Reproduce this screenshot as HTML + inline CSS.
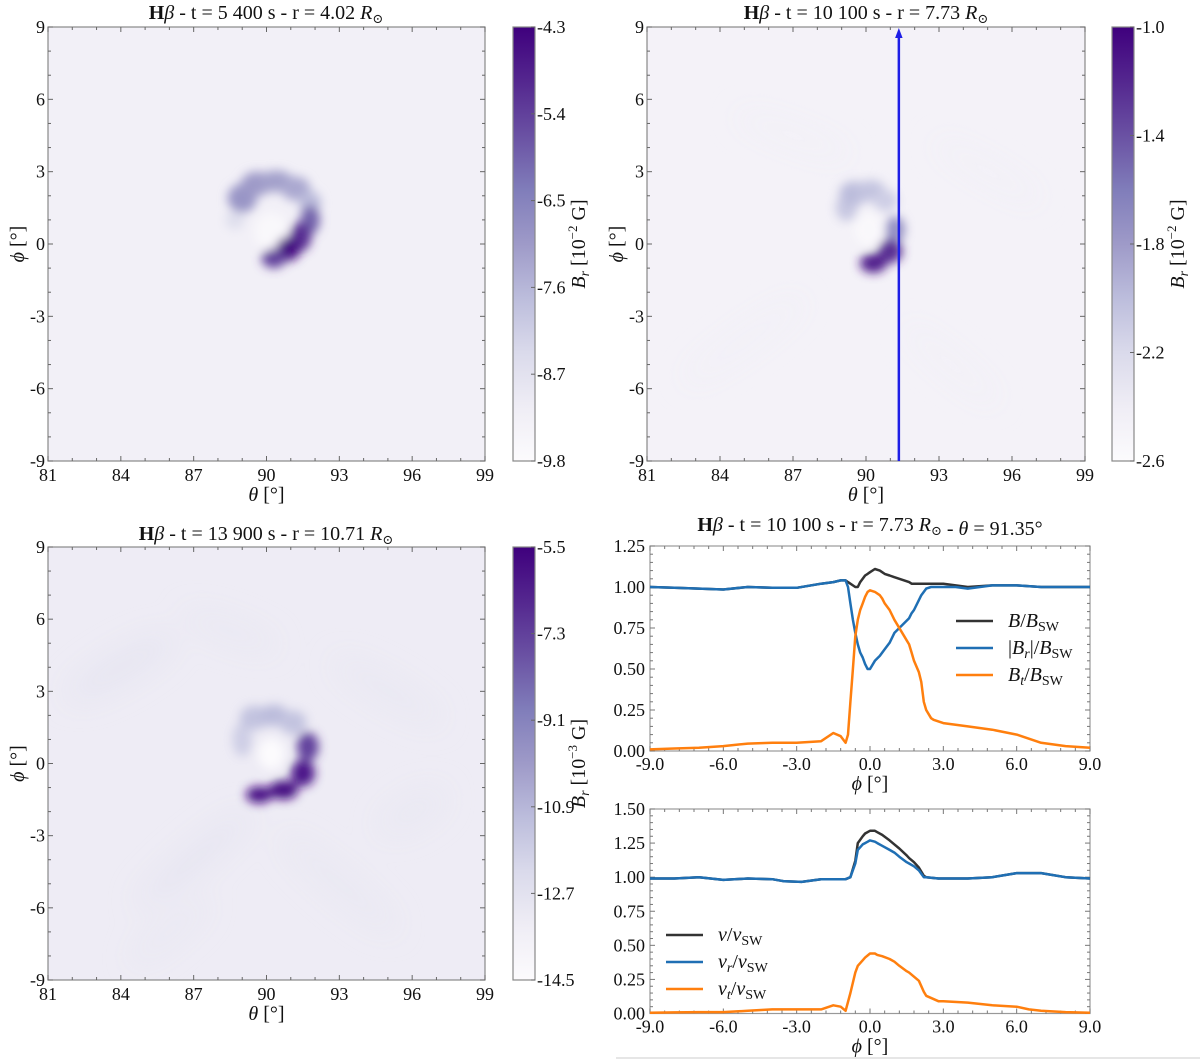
<!DOCTYPE html>
<html><head><meta charset="utf-8">
<style>
html,body{margin:0;padding:0;background:#fff;}
svg{display:block;}
svg text{font-family:"Liberation Serif","DejaVu Serif",serif;}
</style></head>
<body>
<svg id="fig" width="1200" height="1059" viewBox="0 0 1200 1059" xmlns="http://www.w3.org/2000/svg" font-family="Liberation Serif, serif">
<defs>
<filter id="blur" x="-50%" y="-50%" width="200%" height="200%"><feGaussianBlur stdDeviation="5"/></filter>
<filter id="blurbig" x="-50%" y="-50%" width="200%" height="200%"><feGaussianBlur stdDeviation="14"/></filter>
<linearGradient id="purples" x1="0" y1="1" x2="0" y2="0">
<stop offset="0" stop-color="#fcfbfd"/><stop offset="0.125" stop-color="#efedf5"/><stop offset="0.25" stop-color="#dadaeb"/><stop offset="0.375" stop-color="#bcbddc"/><stop offset="0.5" stop-color="#9e9ac8"/><stop offset="0.625" stop-color="#807dba"/><stop offset="0.75" stop-color="#6a51a3"/><stop offset="0.875" stop-color="#54278f"/><stop offset="1" stop-color="#3f007d"/>
</linearGradient>
<marker id="arrowhead" markerWidth="4" markerHeight="4" refX="2" refY="2" orient="auto"><path d="M0,0.5 L4,2 L0,3.5 z" fill="#1e1ee6"/></marker>
</defs>
</svg>
<script>
// ---------- DATA ----------
const phiB = [-9,-8,-7,-6,-5,-4,-3,-2,-1.5,-1.2,-1.0,-0.9,-0.8,-0.7,-0.6,-0.5,-0.4,-0.3,-0.2,-0.1,0,0.2,0.4,0.5,0.6,0.8,1.0,1.4,1.6,1.7,1.8,2.0,2.1,2.2,2.3,2.5,2.6,3,3.5,4,5,6,7,8,9];
const bTotal = [1.0,0.995,0.99,0.985,1.0,0.995,0.995,1.02,1.03,1.04,1.04,1.03,1.02,1.01,1.0,1.0,1.03,1.05,1.07,1.08,1.09,1.11,1.10,1.09,1.08,1.07,1.06,1.04,1.03,1.02,1.02,1.02,1.02,1.02,1.02,1.02,1.02,1.02,1.01,1.0,1.01,1.01,1.0,1.0,1.0];
const bRadial = [1.0,0.995,0.99,0.985,1.0,0.995,0.995,1.02,1.03,1.04,1.04,1.0,0.9,0.8,0.72,0.65,0.6,0.57,0.53,0.5,0.5,0.55,0.58,0.6,0.62,0.66,0.72,0.78,0.81,0.84,0.86,0.92,0.95,0.97,0.99,1.0,1.0,1.0,1.0,0.99,1.01,1.01,1.0,1.0,1.0];
const bTang = [0.01,0.015,0.02,0.03,0.045,0.05,0.05,0.06,0.11,0.09,0.05,0.1,0.3,0.5,0.7,0.8,0.86,0.9,0.94,0.97,0.98,0.97,0.95,0.93,0.9,0.86,0.8,0.7,0.65,0.6,0.55,0.48,0.42,0.3,0.25,0.2,0.19,0.17,0.16,0.15,0.13,0.1,0.05,0.03,0.02];
const phiV = [-9,-8,-7,-6,-5,-4,-3.5,-2.8,-2,-1.5,-1.2,-1.0,-0.8,-0.6,-0.5,-0.3,-0.2,0,0.2,0.3,0.5,0.8,1.0,1.2,1.5,1.6,1.8,2.0,2.2,2.3,2.8,3,4,5,6,6.5,7,8,9];
const vTotal = [0.99,0.99,1.0,0.98,0.99,0.985,0.97,0.965,0.985,0.985,0.985,0.985,1.0,1.12,1.25,1.3,1.32,1.34,1.34,1.33,1.31,1.27,1.24,1.21,1.16,1.14,1.11,1.07,1.01,1.0,0.99,0.99,0.99,1.0,1.03,1.03,1.03,1.0,0.99];
const vRadial = [0.99,0.99,1.0,0.98,0.99,0.985,0.97,0.965,0.985,0.985,0.985,0.985,1.0,1.1,1.2,1.24,1.25,1.27,1.26,1.25,1.23,1.2,1.18,1.15,1.11,1.1,1.08,1.05,1.0,1.0,0.99,0.99,0.99,1.0,1.03,1.03,1.03,1.0,0.99];
const vTang = [0.005,0.008,0.01,0.01,0.02,0.03,0.03,0.03,0.03,0.06,0.05,0.02,0.15,0.3,0.35,0.39,0.41,0.44,0.44,0.43,0.42,0.40,0.38,0.35,0.31,0.3,0.27,0.24,0.16,0.13,0.09,0.09,0.08,0.06,0.05,0.03,0.02,0.01,0.005];
const heatTicksX = [81,84,87,90,93,96,99];
const heatTicksY = [-9,-6,-3,0,3,6,9];
const lineTicksX = [-9,-6,-3,0,3,6,9];
const lineTicksY1 = [0,0.25,0.5,0.75,1.0,1.25];
const lineTicksY2 = [0,0.25,0.5,0.75,1.0,1.25,1.5];
const cbar1Labels = ["-4.3","-5.4","-6.5","-7.6","-8.7","-9.8"];
const cbar2Labels = ["-1.0","-1.4","-1.8","-2.2","-2.6"];
const cbar3Labels = ["-5.5","-7.3","-9.1","-10.9","-12.7","-14.5"];
// blobs: [theta, phi, rx(deg), ry(deg), level 0..1]
const blobs1 = [[90.2,0.5,0.7,0.8,0.03],[88.7,1.0,0.4,0.4,0.22],[89.0,1.9,0.6,0.6,0.52],[89.6,2.5,0.65,0.5,0.5],[90.4,2.6,0.7,0.45,0.48],[91.2,2.3,0.6,0.5,0.45],[91.8,1.7,0.45,0.5,0.38],[91.8,1.0,0.4,0.6,0.7],[91.4,0.3,0.45,0.6,0.85],[90.9,-0.2,0.5,0.5,0.97],[90.3,-0.6,0.5,0.4,0.8]];
const blobs2 = [[90.1,0.6,0.6,0.7,0.03],[89.2,1.5,0.45,0.55,0.33],[89.5,2.1,0.6,0.5,0.38],[90.2,2.2,0.6,0.45,0.35],[90.8,1.8,0.5,0.45,0.3],[91.2,0.6,0.4,0.55,0.55],[91.0,-0.3,0.5,0.5,0.85],[90.3,-0.8,0.55,0.4,0.9]];
const blobs3 = [[90.2,0.4,0.55,0.65,0.0],[89.0,1.0,0.4,0.7,0.3],[89.5,1.9,0.6,0.5,0.35],[90.3,2.0,0.6,0.45,0.38],[91.1,1.7,0.55,0.5,0.35],[91.7,0.7,0.45,0.6,0.8],[91.5,-0.4,0.5,0.55,0.92],[90.7,-1.1,0.6,0.4,0.97],[89.7,-1.3,0.55,0.35,0.95]];
const waves3 = [[84,4,2.5,0.6,0.18,-30],[87,-4,3,0.5,0.18,-40],[95,3,2.5,0.5,0.16,30],[93,-5,3,0.5,0.16,40],[86,-7,2,0.4,0.16,-40],[88.5,5.5,2,0.4,0.16,20],[96,-2,1.5,0.6,0.16,-30]];
const waves2 = [[85,-4,3,0.5,0.1,-35],[95,3,2.5,0.4,0.1,30],[87,4.5,2.5,0.4,0.1,20],[93.5,-5,2.5,0.4,0.1,40]];

// ---------- HELPERS ----------
const NS="http://www.w3.org/2000/svg";
const svg=document.getElementById('fig');
const FF='Liberation Serif, DejaVu Serif, serif';
function mk(tag,attrs,parent){const e=document.createElementNS(NS,tag);for(const k in attrs)e.setAttribute(k,attrs[k]);if(tag==='text')e.setAttribute('font-family',FF);(parent||svg).appendChild(e);return e;}
const stops=[[252,251,253],[239,237,245],[218,218,235],[188,189,220],[158,154,200],[128,125,186],[106,81,163],[84,39,143],[63,0,125]];
function purples(t){t=Math.max(0,Math.min(1,t));const p=t*8,i=Math.min(7,Math.floor(p)),f=p-i;const a=stops[i],b=stops[i+1];return `rgb(${Math.round(a[0]+(b[0]-a[0])*f)},${Math.round(a[1]+(b[1]-a[1])*f)},${Math.round(a[2]+(b[2]-a[2])*f)})`;}
function text(x,y,str,size,anchor,parent){const t=mk('text',{x:x,y:y,'font-size':size,'text-anchor':anchor||'middle',fill:'#111'},parent);t.textContent=str;return t;}

function heatmap(id,L,T,R,B,bg,blobs,waves){
  const g=mk('g',{});
  
  
  const sx=th=>L+(th-81)/18*(R-L), sy=ph=>T+(9-ph)/18*(B-T);
  const kx=(R-L)/18, ky=(B-T)/18;
  const cp=mk('clipPath',{id:id+'-clip'},g);mk('rect',{x:L,y:T,width:R-L,height:B-T},cp);
  const inner=mk('g',{'clip-path':`url(#${id}-clip)`},g);
  mk('rect',{x:L,y:T,width:R-L,height:B-T,fill:purples(bg)},inner);
  if(waves){const wg=mk('g',{filter:'url(#blurbig)'},inner);
    waves.forEach(w=>{const e=mk('ellipse',{cx:sx(w[0]),cy:sy(w[1]),rx:w[2]*kx,ry:w[3]*ky,fill:purples(w[4]),transform:`rotate(${w[5]} ${sx(w[0])} ${sy(w[1])})`},wg);
      
      });}
  const bgp=mk('g',{filter:'url(#blur)'},inner);
  blobs.forEach(b=>{const e=mk('ellipse',{cx:sx(b[0]),cy:sy(b[1]),rx:b[2]*kx,ry:b[3]*ky,fill:purples(b[4])},bgp);
    
    });
  mk('rect',{x:L,y:T,width:R-L,height:B-T,fill:'none',stroke:'#888','stroke-width':1.2},g);
  for(let th=81;th<=99;th+=1){const major=heatTicksX.includes(th);const len=major?5:3;
    mk('line',{x1:sx(th),y1:B,x2:sx(th),y2:B-len,stroke:'#666','stroke-width':1},g);
    mk('line',{x1:sx(th),y1:T,x2:sx(th),y2:T+len,stroke:'#666','stroke-width':1},g);}
  for(let ph=-9;ph<=9;ph+=1){const major=heatTicksY.includes(ph);const len=major?5:3;
    mk('line',{x1:L,y1:sy(ph),x2:L+len,y2:sy(ph),stroke:'#666','stroke-width':1},g);
    mk('line',{x1:R,y1:sy(ph),x2:R-len,y2:sy(ph),stroke:'#666','stroke-width':1},g);}
  heatTicksX.forEach(v=>{const t=text(sx(v),B+20,String(v),18,'middle',g);});
  heatTicksY.forEach(v=>{const t=text(L-3,sy(v)+6,String(v),18,'end',g);});
  const xl=mk('text',{x:(L+R)/2,y:B+40,'font-size':20,'text-anchor':'middle',fill:'#111'},g);
  xl.innerHTML='<tspan font-style="italic">θ</tspan> [°]';
  
  const yl=mk('text',{x:0,y:0,'font-size':20,'text-anchor':'middle',fill:'#111',transform:`translate(${L-24},${(T+B)/2}) rotate(-90)`},g);
  yl.innerHTML='<tspan font-style="italic">ϕ</tspan> [°]';
  
  return {sx,sy};
}
function colorbar(id,L,T,R,B,labels,exp){
  const g=mk('g',{});
  
  
  mk('rect',{x:L,y:T,width:R-L,height:B-T,fill:'url(#purples)',stroke:'#888','stroke-width':1.2},g);
  labels.forEach((s,i)=>{const y=T+i*(B-T)/(labels.length-1);
    mk('line',{x1:R,y1:y,x2:R-4,y2:y,stroke:'#666'},g);
    const t=text(R+2,y+6,s,18,'start',g);});
  const lab=mk('text',{x:0,y:0,'font-size':20,'text-anchor':'middle',fill:'#111',transform:`translate(${R+50},${(T+B)/2}) rotate(-90)`},g);
  lab.innerHTML=`<tspan font-style="italic">B</tspan><tspan font-style="italic" font-size="14" dy="4">r</tspan><tspan dy="-4"> [10</tspan><tspan font-size="13" dy="-8">−${exp}</tspan><tspan dy="8"> G]</tspan>`;
  
}
function title(x,y,html,name){const t=mk('text',{x:x,y:y,'font-size':20,'text-anchor':'middle',fill:'#111'});t.innerHTML=html;}
const hb='<tspan font-weight="bold">H</tspan><tspan font-style="italic">β</tspan>';
const rsun='<tspan font-style="italic">R</tspan><tspan font-size="13" dy="4">⊙</tspan><tspan dy="-4"></tspan>';

// ---------- HEATMAPS ----------
title(266,19,`${hb} - t = 5 400 s - r = 4.02 ${rsun}`,'title-top-left');
heatmap('heatmap-top-left',48,27,485,461,0.1,blobs1,null);
colorbar('colorbar-top-left',513,27,535,461,cbar1Labels,2);

title(866,19,`${hb} - t = 10 100 s - r = 7.73 ${rsun}`,'title-top-right');
const h2=heatmap('heatmap-top-right',647,27,1085,461,0.08,blobs2,waves2);
colorbar('colorbar-top-right',1112,27,1134,461,cbar2Labels,2);
const arr=mk('line',{x1:h2.sx(91.35),y1:461,x2:h2.sx(91.35),y2:33,stroke:'#1e1ee6','stroke-width':2.5,'marker-end':'url(#arrowhead)'});



title(266,540,`${hb} - t = 13 900 s - r = 10.71 ${rsun}`,'title-bottom-left');
heatmap('heatmap-bottom-left',48,547,485,980,0.13,blobs3,waves3);
colorbar('colorbar-bottom-left',513,547,535,980,cbar3Labels,3);

// ---------- LINE PLOTS ----------
title(870,531,`${hb} - t = 10 100 s - r = 7.73 ${rsun} - <tspan font-style="italic">θ</tspan> = 91.35°`,'title-line-plots');
function linePlot(id,L,T,R,B,ymax,ticksY,series,legend){
  const g=mk('g',{});
  
  
  const sx=p=>L+(p+9)/18*(R-L), sy=v=>B-v/ymax*(B-T);
  mk('rect',{x:L,y:T,width:R-L,height:B-T,fill:'#fff',stroke:'#999','stroke-width':1.2},g);
  for(let i=0;i<=30;i++){const p=-9+i*0.6,major=(i%5==0),len=major?5:3;
    mk('line',{x1:sx(p),y1:B,x2:sx(p),y2:B-len,stroke:'#777'},g);mk('line',{x1:sx(p),y1:T,x2:sx(p),y2:T+len,stroke:'#777'},g);}
  for(let v=0;v<=ymax+1e-9;v+=0.05){const major=Math.abs(v/0.25-Math.round(v/0.25))<1e-6,len=major?5:3;
    mk('line',{x1:L,y1:sy(v),x2:L+len,y2:sy(v),stroke:'#777'},g);mk('line',{x1:R,y1:sy(v),x2:R-len,y2:sy(v),stroke:'#777'},g);}
  lineTicksX.forEach(v=>{const t=text(sx(v),B+19,v.toFixed(1),18,'middle',g);});
  ticksY.forEach(v=>{const t=text(L-5,sy(v)+6,v.toFixed(2),18,'end',g);});
  const xl=mk('text',{x:(L+R)/2,y:B+39,'font-size':20,'text-anchor':'middle',fill:'#111'},g);
  xl.innerHTML='<tspan font-style="italic">ϕ</tspan> [°]';
  
  series.forEach(s=>{const d=s.x.map((p,i)=>(i?'L':'M')+sx(p).toFixed(1)+','+sy(s.y[i]).toFixed(1)).join(' ');
    const pth=mk('path',{d:d,fill:'none',stroke:s.c,'stroke-width':2.5,'stroke-linejoin':'round'},g);
    
    });
  legend.items.forEach((it,i)=>{const y=legend.y+i*legend.dy;
    const ln=mk('line',{x1:legend.x,y1:y,x2:legend.x+37,y2:y,stroke:it.c,'stroke-width':2.5},g);
    
    const t=mk('text',{x:legend.x+52,y:y+6,'font-size':20,fill:'#111'},g);t.innerHTML=it.h;
    });
}
const sw='<tspan font-size="14" dy="4">SW</tspan>';
linePlot('plot-magnetic-field',650,546,1090,751,1.25,lineTicksY1,
  [{x:phiB,y:bTotal,c:'#333',n:'line-b-total'},{x:phiB,y:bRadial,c:'#1f6fb4',n:'line-b-radial'},{x:phiB,y:bTang,c:'#ff7f0e',n:'line-b-tangential'}],
  {x:956,y:621,dy:27,items:[{c:'#333',h:`<tspan font-style="italic">B</tspan>/<tspan font-style="italic">B</tspan>${sw}`},{c:'#1f6fb4',h:`|<tspan font-style="italic">B</tspan><tspan font-style="italic" font-size="14" dy="4">r</tspan><tspan dy="-4">|/</tspan><tspan font-style="italic">B</tspan>${sw}`},{c:'#ff7f0e',h:`<tspan font-style="italic">B</tspan><tspan font-style="italic" font-size="14" dy="4">t</tspan><tspan dy="-4">/</tspan><tspan font-style="italic">B</tspan>${sw}`}]});
linePlot('plot-velocity',650,809,1090,1013.5,1.5,lineTicksY2,
  [{x:phiV,y:vTotal,c:'#333',n:'line-v-total'},{x:phiV,y:vRadial,c:'#1f6fb4',n:'line-v-radial'},{x:phiV,y:vTang,c:'#ff7f0e',n:'line-v-tangential'}],
  {x:666,y:935,dy:27,items:[{c:'#333',h:`<tspan font-style="italic">v</tspan>/<tspan font-style="italic">v</tspan>${sw}`},{c:'#1f6fb4',h:`<tspan font-style="italic">v</tspan><tspan font-style="italic" font-size="14" dy="4">r</tspan><tspan dy="-4">/</tspan><tspan font-style="italic">v</tspan>${sw}`},{c:'#ff7f0e',h:`<tspan font-style="italic">v</tspan><tspan font-style="italic" font-size="14" dy="4">t</tspan><tspan dy="-4">/</tspan><tspan font-style="italic">v</tspan>${sw}`}]});
const bl=mk('line',{x1:616,y1:1058,x2:1200,y2:1058,stroke:'#e6e6e6','stroke-width':2});


</script>
</body></html>
